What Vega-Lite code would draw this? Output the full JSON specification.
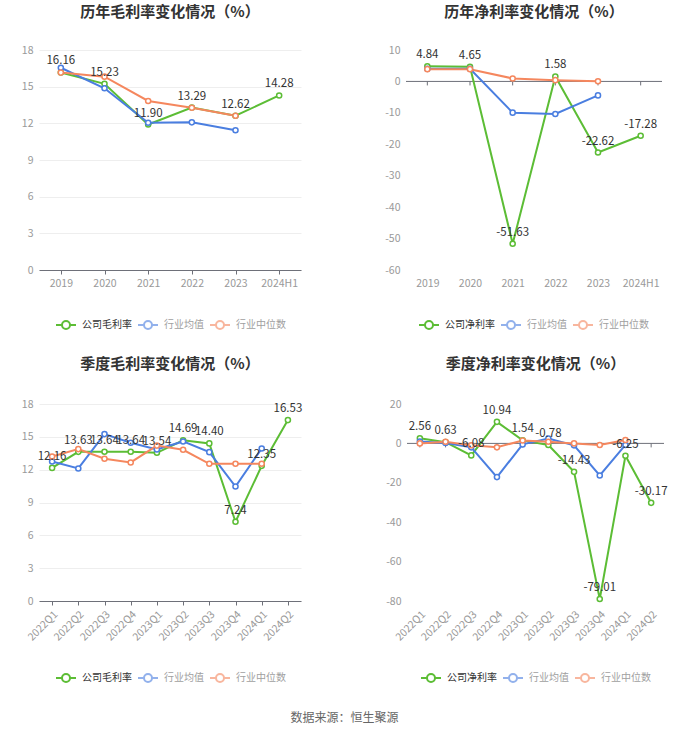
{
  "$schema": "https://vega.github.io/schema/vega-lite/v6.json",
  "background": "white",
  "padding": {"left": 21, "top": 5, "right": 0, "bottom": 0},
  "config": {
    "font": "Noto Sans CJK SC",
    "locale": {"number": {"decimal": ".", "thousands": ",", "grouping": [3], "currency": ["", ""], "minus": "-"}},
    "view": {"stroke": null},
    "axis": {"labelColor": "#999999", "labelFontSize": 10.5, "gridColor": "#eeeeee", "domainColor": "#6e7079", "tickColor": "#6e7079", "title": null, "labelOverlap": false},
    "title": {"fontSize": 15, "fontWeight": "bold", "color": "#333333", "frame": "group", "anchor": "middle"},
    "legend": {"padding": 0}
  },
  "title": {"text": "数据来源：恒生聚源", "orient": "bottom", "fontSize": 12, "fontWeight": "normal", "color": "#666666", "frame": "bounds", "offset": 27},
  "datasets": {
    "annualGross": [
      {"period": "2019", "series": "公司毛利率", "value": 16.16},
      {"period": "2020", "series": "公司毛利率", "value": 15.23},
      {"period": "2021", "series": "公司毛利率", "value": 11.90},
      {"period": "2022", "series": "公司毛利率", "value": 13.29},
      {"period": "2023", "series": "公司毛利率", "value": 12.62},
      {"period": "2024H1", "series": "公司毛利率", "value": 14.28},
      {"period": "2019", "series": "行业均值", "value": 16.55},
      {"period": "2020", "series": "行业均值", "value": 14.87},
      {"period": "2021", "series": "行业均值", "value": 12.05},
      {"period": "2022", "series": "行业均值", "value": 12.08},
      {"period": "2023", "series": "行业均值", "value": 11.43},
      {"period": "2019", "series": "行业中位数", "value": 16.15},
      {"period": "2020", "series": "行业中位数", "value": 15.82},
      {"period": "2021", "series": "行业中位数", "value": 13.83},
      {"period": "2022", "series": "行业中位数", "value": 13.28},
      {"period": "2023", "series": "行业中位数", "value": 12.62}
    ],
    "annualNet": [
      {"period": "2019", "series": "公司净利率", "value": 4.84},
      {"period": "2020", "series": "公司净利率", "value": 4.65},
      {"period": "2021", "series": "公司净利率", "value": -51.63},
      {"period": "2022", "series": "公司净利率", "value": 1.58},
      {"period": "2023", "series": "公司净利率", "value": -22.62},
      {"period": "2024H1", "series": "公司净利率", "value": -17.28},
      {"period": "2019", "series": "行业均值", "value": 4.0},
      {"period": "2020", "series": "行业均值", "value": 4.0},
      {"period": "2021", "series": "行业均值", "value": -9.94},
      {"period": "2022", "series": "行业均值", "value": -10.35},
      {"period": "2023", "series": "行业均值", "value": -4.44},
      {"period": "2019", "series": "行业中位数", "value": 3.9},
      {"period": "2020", "series": "行业中位数", "value": 3.9},
      {"period": "2021", "series": "行业中位数", "value": 0.95},
      {"period": "2022", "series": "行业中位数", "value": 0.4},
      {"period": "2023", "series": "行业中位数", "value": 0.05}
    ],
    "quarterGross": [
      {"period": "2022Q1", "series": "公司毛利率", "value": 12.16},
      {"period": "2022Q2", "series": "公司毛利率", "value": 13.63},
      {"period": "2022Q3", "series": "公司毛利率", "value": 13.64},
      {"period": "2022Q4", "series": "公司毛利率", "value": 13.64},
      {"period": "2023Q1", "series": "公司毛利率", "value": 13.54},
      {"period": "2023Q2", "series": "公司毛利率", "value": 14.69},
      {"period": "2023Q3", "series": "公司毛利率", "value": 14.40},
      {"period": "2023Q4", "series": "公司毛利率", "value": 7.24},
      {"period": "2024Q1", "series": "公司毛利率", "value": 12.35},
      {"period": "2024Q2", "series": "公司毛利率", "value": 16.53},
      {"period": "2022Q1", "series": "行业均值", "value": 12.75},
      {"period": "2022Q2", "series": "行业均值", "value": 12.11},
      {"period": "2022Q3", "series": "行业均值", "value": 15.25},
      {"period": "2022Q4", "series": "行业均值", "value": 14.46},
      {"period": "2023Q1", "series": "行业均值", "value": 13.85},
      {"period": "2023Q2", "series": "行业均值", "value": 14.58},
      {"period": "2023Q3", "series": "行业均值", "value": 13.6},
      {"period": "2023Q4", "series": "行业均值", "value": 10.46},
      {"period": "2024Q1", "series": "行业均值", "value": 13.94},
      {"period": "2022Q1", "series": "行业中位数", "value": 13.2},
      {"period": "2022Q2", "series": "行业中位数", "value": 13.88},
      {"period": "2022Q3", "series": "行业中位数", "value": 13.0},
      {"period": "2022Q4", "series": "行业中位数", "value": 12.66},
      {"period": "2023Q1", "series": "行业中位数", "value": 14.2},
      {"period": "2023Q2", "series": "行业中位数", "value": 13.82},
      {"period": "2023Q3", "series": "行业中位数", "value": 12.54},
      {"period": "2023Q4", "series": "行业中位数", "value": 12.54},
      {"period": "2024Q1", "series": "行业中位数", "value": 12.54}
    ],
    "quarterNet": [
      {"period": "2022Q1", "series": "公司净利率", "value": 2.56},
      {"period": "2022Q2", "series": "公司净利率", "value": 0.63},
      {"period": "2022Q3", "series": "公司净利率", "value": -6.08},
      {"period": "2022Q4", "series": "公司净利率", "value": 10.94},
      {"period": "2023Q1", "series": "公司净利率", "value": 1.54},
      {"period": "2023Q2", "series": "公司净利率", "value": -0.78},
      {"period": "2023Q3", "series": "公司净利率", "value": -14.43},
      {"period": "2023Q4", "series": "公司净利率", "value": -79.01},
      {"period": "2024Q1", "series": "公司净利率", "value": -6.25},
      {"period": "2024Q2", "series": "公司净利率", "value": -30.17},
      {"period": "2022Q1", "series": "行业均值", "value": 1.0},
      {"period": "2022Q2", "series": "行业均值", "value": 0.2},
      {"period": "2022Q3", "series": "行业均值", "value": -2.0},
      {"period": "2022Q4", "series": "行业均值", "value": -17.1},
      {"period": "2023Q1", "series": "行业均值", "value": -0.5},
      {"period": "2023Q2", "series": "行业均值", "value": 2.5},
      {"period": "2023Q3", "series": "行业均值", "value": -1.0},
      {"period": "2023Q4", "series": "行业均值", "value": -16.3},
      {"period": "2024Q1", "series": "行业均值", "value": -0.8},
      {"period": "2022Q1", "series": "行业中位数", "value": 0.0},
      {"period": "2022Q2", "series": "行业中位数", "value": 0.8},
      {"period": "2022Q3", "series": "行业中位数", "value": -1.0},
      {"period": "2022Q4", "series": "行业中位数", "value": -2.0},
      {"period": "2023Q1", "series": "行业中位数", "value": 1.5},
      {"period": "2023Q2", "series": "行业中位数", "value": 0.8},
      {"period": "2023Q3", "series": "行业中位数", "value": 0.0},
      {"period": "2023Q4", "series": "行业中位数", "value": -0.8},
      {"period": "2024Q1", "series": "行业中位数", "value": 1.7}
    ]
  },
  "spacing": 24,
  "resolve": {"scale": {"color": "independent", "x": "independent", "y": "independent"}, "legend": {"color": "independent"}},
  "vconcat": [
    {
      "spacing": 83,
      "resolve": {"scale": {"color": "independent", "x": "independent", "y": "independent"}, "legend": {"color": "independent"}},
      "hconcat": [
        {
          "width": 262, "height": 220,
          "title": {"text": "历年毛利率变化情况（%）", "offset": 25},
          "data": {"name": "annualGross"},
          "layer": [
            {
              "mark": {"type": "line", "strokeWidth": 2},
              "encoding": {
                "x": {"field": "period", "type": "ordinal", "sort": null, "scale": {"type": "point", "padding": 0.5}, "axis": {"labelAngle": 0, "ticks": true, "tickSize": 4, "labelPadding": 4, "domain": true}},
                "y": {"field": "value", "type": "quantitative", "scale": {"domain": [0, 18], "nice": false}, "axis": {"values": [0, 3, 6, 9, 12, 15, 18], "tickCount": 20, "labelOverlap": false, "domain": false, "ticks": false, "labelPadding": 6}},
                "color": {"field": "series", "type": "nominal", "scale": {"domain": ["公司毛利率", "行业均值", "行业中位数"], "range": ["#5cbd35", "#4a7ee0", "#f5875e"]},
                  "legend": {"orient": "none", "legendX": 16, "legendY": 264, "direction": "horizontal", "title": null, "symbolType": "M-1,0L-0.4,0M0.4,0L1,0M0.4,0A0.4,0.4,0,1,1,-0.4,0A0.4,0.4,0,1,1,0.4,0", "symbolSize": 400, "symbolStrokeWidth": 2, "symbolFillColor": "white", "labelFontSize": 10, "labelOffset": 5, "columnPadding": 2,
                    "encode": {"labels": {"update": {"fill": {"signal": "datum.value === '公司毛利率' ? '#333333' : '#a0a0a0'"}}}, "symbols": {"update": {"opacity": {"signal": "datum.value === '公司毛利率' ? 1 : 0.6"}}}}}}
              }
            },
            {
              "mark": {"type": "point", "filled": false, "fill": "white", "size": 26, "strokeWidth": 1.5, "opacity": 1},
              "encoding": {
                "x": {"field": "period", "type": "ordinal", "sort": null},
                "y": {"field": "value", "type": "quantitative"},
                "color": {"field": "series", "type": "nominal", "legend": null}
              }
            },
            {
              "transform": [{"filter": "datum.series === '公司毛利率'"}],
              "mark": {"type": "text", "dy": -6, "baseline": "bottom", "fontSize": 11.5, "color": "#333333"},
              "encoding": {
                "x": {"field": "period", "type": "ordinal", "sort": null},
                "y": {"field": "value", "type": "quantitative"},
                "text": {"field": "value", "type": "quantitative", "format": ".2f"}
              }
            }
          ]
        },
        {
          "width": 256, "height": 220,
          "title": {"text": "历年净利率变化情况（%）", "offset": 25},
          "data": {"name": "annualNet"},
          "layer": [
            {
              "transform": [{"filter": "datum.series === '公司净利率'"}],
              "mark": {"type": "rule", "color": "#6e7079", "strokeWidth": 1, "y2Offset": 4},
              "encoding": {
                "x": {"field": "period", "type": "ordinal", "sort": null, "scale": {"type": "point", "padding": 0.5}, "axis": {"labelAngle": 0, "ticks": false, "labelPadding": 8, "domain": false}},
                "y": {"datum": 0, "type": "quantitative", "scale": {"domain": [-60, 10], "nice": false}, "axis": {"values": [-60, -50, -40, -30, -20, -10, 0, 10], "tickCount": 20, "labelOverlap": false, "domain": false, "ticks": false, "labelPadding": 6}},
                "y2": {"datum": 0}
              }
            },
            {
              "data": {"values": [{}]},
              "mark": {"type": "rule", "color": "#6e7079", "strokeWidth": 1},
              "encoding": {"y": {"datum": 0, "type": "quantitative"}}
            },
            {
              "mark": {"type": "line", "strokeWidth": 2},
              "encoding": {
                "x": {"field": "period", "type": "ordinal", "sort": null},
                "y": {"field": "value", "type": "quantitative"},
                "color": {"field": "series", "type": "nominal", "scale": {"domain": ["公司净利率", "行业均值", "行业中位数"], "range": ["#5cbd35", "#4a7ee0", "#f5875e"]},
                  "legend": {"orient": "none", "legendX": 12, "legendY": 264, "direction": "horizontal", "title": null, "symbolType": "M-1,0L-0.4,0M0.4,0L1,0M0.4,0A0.4,0.4,0,1,1,-0.4,0A0.4,0.4,0,1,1,0.4,0", "symbolSize": 400, "symbolStrokeWidth": 2, "symbolFillColor": "white", "labelFontSize": 10, "labelOffset": 5, "columnPadding": 2,
                    "encode": {"labels": {"update": {"fill": {"signal": "datum.value === '公司净利率' ? '#333333' : '#a0a0a0'"}}}, "symbols": {"update": {"opacity": {"signal": "datum.value === '公司净利率' ? 1 : 0.6"}}}}}}
              }
            },
            {
              "mark": {"type": "point", "filled": false, "fill": "white", "size": 26, "strokeWidth": 1.5, "opacity": 1},
              "encoding": {
                "x": {"field": "period", "type": "ordinal", "sort": null},
                "y": {"field": "value", "type": "quantitative"},
                "color": {"field": "series", "type": "nominal", "legend": null}
              }
            },
            {
              "transform": [{"filter": "datum.series === '公司净利率'"}],
              "mark": {"type": "text", "dy": -6, "baseline": "bottom", "fontSize": 11.5, "color": "#333333"},
              "encoding": {
                "x": {"field": "period", "type": "ordinal", "sort": null},
                "y": {"field": "value", "type": "quantitative"},
                "text": {"field": "value", "type": "quantitative", "format": ".2f"}
              }
            }
          ]
        }
      ]
    },
    {
      "spacing": 82,
      "resolve": {"scale": {"color": "independent", "x": "independent", "y": "independent"}, "legend": {"color": "independent"}},
      "hconcat": [
        {
          "width": 262, "height": 197,
          "title": {"text": "季度毛利率变化情况（%）", "offset": 27},
          "data": {"name": "quarterGross"},
          "layer": [
            {
              "mark": {"type": "line", "strokeWidth": 2},
              "encoding": {
                "x": {"field": "period", "type": "ordinal", "sort": null, "scale": {"type": "point", "padding": 0.5}, "axis": {"labelAngle": -45, "ticks": true, "tickSize": 4, "labelPadding": 4, "domain": true}},
                "y": {"field": "value", "type": "quantitative", "scale": {"domain": [0, 18], "nice": false}, "axis": {"values": [0, 3, 6, 9, 12, 15, 18], "tickCount": 20, "labelOverlap": false, "domain": false, "ticks": false, "labelPadding": 6}},
                "color": {"field": "series", "type": "nominal", "scale": {"domain": ["公司毛利率", "行业均值", "行业中位数"], "range": ["#5cbd35", "#4a7ee0", "#f5875e"]},
                  "legend": {"orient": "none", "legendX": 16, "legendY": 263, "direction": "horizontal", "title": null, "symbolType": "M-1,0L-0.4,0M0.4,0L1,0M0.4,0A0.4,0.4,0,1,1,-0.4,0A0.4,0.4,0,1,1,0.4,0", "symbolSize": 400, "symbolStrokeWidth": 2, "symbolFillColor": "white", "labelFontSize": 10, "labelOffset": 5, "columnPadding": 2,
                    "encode": {"labels": {"update": {"fill": {"signal": "datum.value === '公司毛利率' ? '#333333' : '#a0a0a0'"}}}, "symbols": {"update": {"opacity": {"signal": "datum.value === '公司毛利率' ? 1 : 0.6"}}}}}}
              }
            },
            {
              "mark": {"type": "point", "filled": false, "fill": "white", "size": 26, "strokeWidth": 1.5, "opacity": 1},
              "encoding": {
                "x": {"field": "period", "type": "ordinal", "sort": null},
                "y": {"field": "value", "type": "quantitative"},
                "color": {"field": "series", "type": "nominal", "legend": null}
              }
            },
            {
              "transform": [{"filter": "datum.series === '公司毛利率'"}],
              "mark": {"type": "text", "dy": -6, "baseline": "bottom", "fontSize": 11.5, "color": "#333333"},
              "encoding": {
                "x": {"field": "period", "type": "ordinal", "sort": null},
                "y": {"field": "value", "type": "quantitative"},
                "text": {"field": "value", "type": "quantitative", "format": ".2f"}
              }
            }
          ]
        },
        {
          "width": 257, "height": 197,
          "title": {"text": "季度净利率变化情况（%）", "offset": 27},
          "data": {"name": "quarterNet"},
          "layer": [
            {
              "transform": [{"filter": "datum.series === '公司净利率'"}],
              "mark": {"type": "rule", "color": "#6e7079", "strokeWidth": 1, "y2Offset": 4},
              "encoding": {
                "x": {"field": "period", "type": "ordinal", "sort": null, "scale": {"type": "point", "padding": 0.5}, "axis": {"labelAngle": -45, "ticks": false, "labelPadding": 8, "domain": false}},
                "y": {"datum": 0, "type": "quantitative", "scale": {"domain": [-80, 20], "nice": false}, "axis": {"values": [-80, -60, -40, -20, 0, 20], "tickCount": 20, "labelOverlap": false, "domain": false, "ticks": false, "labelPadding": 6}},
                "y2": {"datum": 0}
              }
            },
            {
              "data": {"values": [{}]},
              "mark": {"type": "rule", "color": "#6e7079", "strokeWidth": 1},
              "encoding": {"y": {"datum": 0, "type": "quantitative"}}
            },
            {
              "mark": {"type": "line", "strokeWidth": 2},
              "encoding": {
                "x": {"field": "period", "type": "ordinal", "sort": null},
                "y": {"field": "value", "type": "quantitative"},
                "color": {"field": "series", "type": "nominal", "scale": {"domain": ["公司净利率", "行业均值", "行业中位数"], "range": ["#5cbd35", "#4a7ee0", "#f5875e"]},
                  "legend": {"orient": "none", "legendX": 13, "legendY": 263, "direction": "horizontal", "title": null, "symbolType": "M-1,0L-0.4,0M0.4,0L1,0M0.4,0A0.4,0.4,0,1,1,-0.4,0A0.4,0.4,0,1,1,0.4,0", "symbolSize": 400, "symbolStrokeWidth": 2, "symbolFillColor": "white", "labelFontSize": 10, "labelOffset": 5, "columnPadding": 2,
                    "encode": {"labels": {"update": {"fill": {"signal": "datum.value === '公司净利率' ? '#333333' : '#a0a0a0'"}}}, "symbols": {"update": {"opacity": {"signal": "datum.value === '公司净利率' ? 1 : 0.6"}}}}}}
              }
            },
            {
              "mark": {"type": "point", "filled": false, "fill": "white", "size": 26, "strokeWidth": 1.5, "opacity": 1},
              "encoding": {
                "x": {"field": "period", "type": "ordinal", "sort": null},
                "y": {"field": "value", "type": "quantitative"},
                "color": {"field": "series", "type": "nominal", "legend": null}
              }
            },
            {
              "transform": [{"filter": "datum.series === '公司净利率'"}],
              "mark": {"type": "text", "dy": -6, "baseline": "bottom", "fontSize": 11.5, "color": "#333333"},
              "encoding": {
                "x": {"field": "period", "type": "ordinal", "sort": null},
                "y": {"field": "value", "type": "quantitative"},
                "text": {"field": "value", "type": "quantitative", "format": ".2f"}
              }
            }
          ]
        }
      ]
    }
  ]
}
